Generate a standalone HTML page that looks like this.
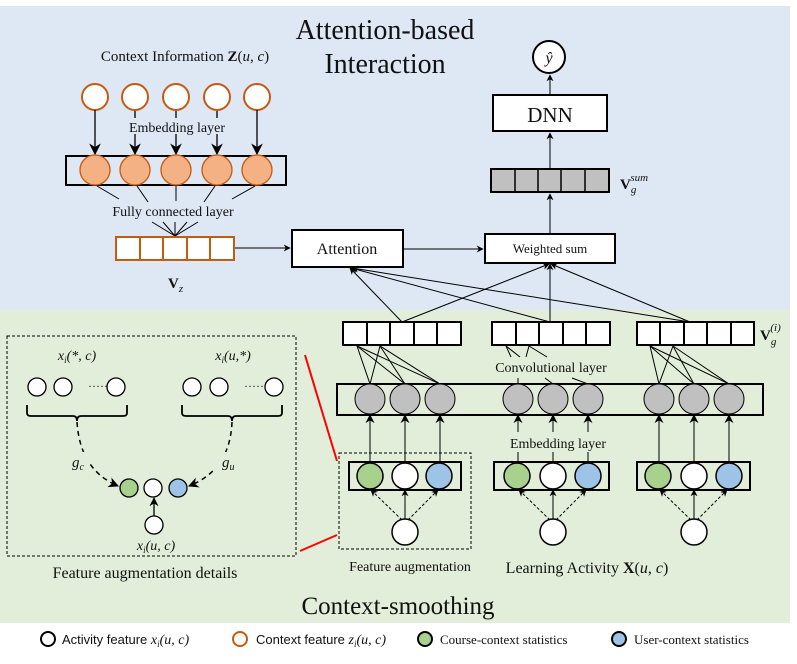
<!DOCTYPE html>
<html><head><meta charset="utf-8"><style>
body{margin:0;background:#fff}
svg{display:block}
text{font-family:"Liberation Serif",serif;fill:#111}
.s{font-family:"Liberation Sans",sans-serif}
</style></head><body>
<svg width="797" height="664" viewBox="0 0 797 664" xmlns="http://www.w3.org/2000/svg">
<defs>
<marker id="a" viewBox="0 0 10 10" refX="9" refY="5" markerWidth="7" markerHeight="7" orient="auto"><path d="M0,0 L10,5 L0,10 L3,5 z" fill="#000"/></marker>
<marker id="b" viewBox="0 0 10 10" refX="9" refY="5" markerWidth="9" markerHeight="9" orient="auto"><path d="M0,0 L10,5 L0,10 L3,5 z" fill="#000"/></marker>
</defs>
<rect x="0" y="6" width="790" height="305" fill="#dde8f4"/>
<rect x="0" y="310" width="790" height="313" fill="#e2eed9"/>

<text x="385" y="39" font-size="28" text-anchor="middle">Attention-based</text>
<text x="385" y="73" font-size="28" text-anchor="middle">Interaction</text>
<text x="185" y="61" font-size="15" text-anchor="middle">Context Information <tspan font-weight="bold">Z</tspan>(<tspan font-style="italic">u</tspan>, <tspan font-style="italic">c</tspan>)</text>

<g fill="#fff" stroke="#c55a11" stroke-width="2">
<circle cx="95" cy="97" r="13"/><circle cx="135" cy="97" r="13"/><circle cx="176" cy="97" r="13"/><circle cx="217" cy="97" r="13"/><circle cx="257" cy="97" r="13"/>
</g>
<g stroke="#000" stroke-width="1.3" marker-end="url(#b)">
<line x1="95" y1="110" x2="95" y2="154"/><line x1="135" y1="111" x2="135" y2="154"/><line x1="176" y1="111" x2="176" y2="154"/><line x1="217" y1="111" x2="217" y2="154"/><line x1="257" y1="110" x2="257" y2="154"/>
</g>
<rect x="124" y="118" width="110" height="16" fill="#dde8f4"/>
<text x="177" y="132" font-size="14" text-anchor="middle">Embedding layer</text>
<rect x="66" y="156" width="220" height="29" fill="none" stroke="#000" stroke-width="2"/>
<g fill="#f4b183" stroke="#c55a11" stroke-width="1.3">
<circle cx="95" cy="170" r="15"/><circle cx="135" cy="170" r="15"/><circle cx="176" cy="170" r="15"/><circle cx="217" cy="170" r="15"/><circle cx="257" cy="170" r="15"/>
</g>
<g stroke="#000" stroke-width="1">
<line x1="97" y1="186" x2="119" y2="199"/><line x1="137" y1="186" x2="148" y2="202"/><line x1="176" y1="186" x2="176" y2="201"/><line x1="215" y1="186" x2="204" y2="202"/><line x1="255" y1="186" x2="232" y2="199"/>
<line x1="152" y1="222" x2="175" y2="236"/><line x1="163" y1="222" x2="175" y2="236"/><line x1="175" y1="222" x2="175" y2="236"/><line x1="187" y1="222" x2="175" y2="236"/><line x1="198" y1="222" x2="175" y2="236"/>
</g>
<text x="173" y="216" font-size="14" text-anchor="middle">Fully connected layer</text>
<rect x="116" y="237" width="118" height="23" fill="#fff" stroke="#c55a11" stroke-width="2"/>
<g stroke="#c55a11" stroke-width="2"><line x1="140" y1="237" x2="140" y2="260"/><line x1="163" y1="237" x2="163" y2="260"/><line x1="187" y1="237" x2="187" y2="260"/><line x1="210" y1="237" x2="210" y2="260"/></g>
<text x="168" y="288" font-size="15" font-weight="bold">V<tspan font-size="11" font-style="italic" font-weight="normal" dy="4">z</tspan></text>
<line x1="235" y1="248" x2="290" y2="248" stroke="#000" stroke-width="1" marker-end="url(#a)"/>

<rect x="292" y="230" width="111" height="37" fill="#fff" stroke="#000" stroke-width="2"/>
<text x="347" y="254" font-size="16" text-anchor="middle">Attention</text>
<line x1="403" y1="249" x2="483" y2="249" stroke="#000" stroke-width="1" marker-end="url(#a)"/>
<rect x="485" y="234" width="130" height="29" fill="#fff" stroke="#000" stroke-width="2"/>
<text x="550" y="253" font-size="13" text-anchor="middle">Weighted sum</text>
<line x1="550" y1="233" x2="550" y2="194" stroke="#000" stroke-width="1" marker-end="url(#a)"/>
<rect x="491" y="169" width="118" height="23" fill="#c0c0c0" stroke="#000" stroke-width="2"/>
<g stroke="#000" stroke-width="1.5"><line x1="515" y1="169" x2="515" y2="192"/><line x1="538" y1="169" x2="538" y2="192"/><line x1="561" y1="169" x2="561" y2="192"/><line x1="585" y1="169" x2="585" y2="192"/></g>
<text x="620" y="189" font-size="15" font-weight="bold">V<tspan font-size="11" font-style="italic" font-weight="normal" dy="4">g</tspan><tspan font-size="11" font-style="italic" font-weight="normal" dx="-6" dy="-12">sum</tspan></text>
<line x1="550" y1="168" x2="550" y2="133" stroke="#000" stroke-width="1" marker-end="url(#a)"/>
<rect x="493" y="95" width="114" height="36" fill="#fff" stroke="#000" stroke-width="2"/>
<text x="550" y="122" font-size="21" text-anchor="middle">DNN</text>
<line x1="550" y1="95" x2="550" y2="75" stroke="#000" stroke-width="1" marker-end="url(#a)"/>
<circle cx="549" cy="57" r="16" fill="#fff" stroke="#000" stroke-width="2"/>
<text x="549" y="63" font-size="16" font-style="italic" text-anchor="middle">ŷ</text>

<g stroke="#000" stroke-width="1" marker-end="url(#a)">
<line x1="402" y1="322" x2="350" y2="268"/><line x1="550" y1="322" x2="351" y2="268"/><line x1="690" y1="322" x2="352" y2="268"/>
<line x1="402" y1="322" x2="549" y2="264"/><line x1="550" y1="322" x2="550" y2="264"/><line x1="690" y1="322" x2="551" y2="264"/>
</g>

<g fill="#fff" stroke="#000" stroke-width="2">
<rect x="343" y="322" width="118" height="23"/><rect x="492" y="322" width="118" height="23"/><rect x="637" y="322" width="117" height="23"/>
</g>
<g stroke="#000" stroke-width="2">
<line x1="367" y1="322" x2="367" y2="345"/><line x1="390" y1="322" x2="390" y2="345"/><line x1="414" y1="322" x2="414" y2="345"/><line x1="437" y1="322" x2="437" y2="345"/>
<line x1="516" y1="322" x2="516" y2="345"/><line x1="539" y1="322" x2="539" y2="345"/><line x1="563" y1="322" x2="563" y2="345"/><line x1="586" y1="322" x2="586" y2="345"/>
<line x1="660" y1="322" x2="660" y2="345"/><line x1="684" y1="322" x2="684" y2="345"/><line x1="707" y1="322" x2="707" y2="345"/><line x1="731" y1="322" x2="731" y2="345"/>
</g>
<text x="760" y="340" font-size="15" font-weight="bold">V<tspan font-size="11" font-style="italic" font-weight="normal" dy="5">g</tspan><tspan font-size="11" font-style="italic" font-weight="normal" dx="-6" dy="-14">(i)</tspan></text>
<g stroke="#000" stroke-width="1">
<line x1="357" y1="346" x2="370" y2="384"/><line x1="357" y1="346" x2="405" y2="384"/><line x1="357" y1="346" x2="440" y2="384"/>
<line x1="380" y1="346" x2="370" y2="384"/><line x1="380" y1="346" x2="405" y2="384"/><line x1="380" y1="346" x2="440" y2="384"/>
<line x1="650" y1="346" x2="659" y2="384"/><line x1="650" y1="346" x2="694" y2="384"/><line x1="650" y1="346" x2="729" y2="384"/>
<line x1="673" y1="346" x2="659" y2="384"/><line x1="673" y1="346" x2="694" y2="384"/><line x1="673" y1="346" x2="729" y2="384"/>
<line x1="506" y1="346" x2="511" y2="357"/><line x1="506" y1="346" x2="520" y2="357"/><line x1="529" y1="346" x2="526" y2="357"/><line x1="529" y1="346" x2="547" y2="357"/>
<line x1="518" y1="378" x2="518" y2="384"/><line x1="545" y1="378" x2="553" y2="384"/><line x1="572" y1="378" x2="588" y2="384"/>
</g>
<text x="551" y="372" font-size="14" text-anchor="middle">Convolutional layer</text>

<rect x="337" y="384" width="426" height="31" fill="none" stroke="#000" stroke-width="2"/>
<g fill="#c0c0c0" stroke="#000" stroke-width="1">
<circle cx="370" cy="399" r="15"/><circle cx="405" cy="399" r="15"/><circle cx="440" cy="399" r="15"/>
<circle cx="518" cy="399" r="15"/><circle cx="553" cy="399" r="15"/><circle cx="588" cy="399" r="15"/>
<circle cx="659" cy="399" r="15"/><circle cx="694" cy="399" r="15"/><circle cx="729" cy="399" r="15"/>
</g>
<g stroke="#000" stroke-width="1" marker-end="url(#b)">
<line x1="370" y1="462" x2="370" y2="415"/><line x1="405" y1="462" x2="405" y2="415"/><line x1="440" y1="462" x2="440" y2="415"/>
<line x1="518" y1="432" x2="518" y2="415"/><line x1="553" y1="432" x2="553" y2="415"/><line x1="588" y1="432" x2="588" y2="415"/>
<line x1="659" y1="462" x2="659" y2="415"/><line x1="694" y1="462" x2="694" y2="415"/><line x1="729" y1="462" x2="729" y2="415"/>
</g>
<g stroke="#000" stroke-width="1"><line x1="518" y1="452" x2="518" y2="462"/><line x1="553" y1="452" x2="553" y2="462"/><line x1="588" y1="452" x2="588" y2="462"/></g>
<text x="558" y="448" font-size="14" text-anchor="middle">Embedding layer</text>

<g fill="none" stroke="#000" stroke-width="2">
<rect x="349" y="462" width="112" height="28"/><rect x="494" y="462" width="115" height="28"/><rect x="637" y="462" width="113" height="28"/>
</g>
<g stroke="#000" stroke-width="1.5">
<circle cx="370" cy="476" r="13" fill="#a9d18e"/><circle cx="405" cy="476" r="13" fill="#fff"/><circle cx="439" cy="476" r="13" fill="#9dc3e6"/>
<circle cx="517" cy="476" r="13" fill="#a9d18e"/><circle cx="553" cy="476" r="13" fill="#fff"/><circle cx="588" cy="476" r="13" fill="#9dc3e6"/>
<circle cx="658" cy="476" r="13" fill="#a9d18e"/><circle cx="694" cy="476" r="13" fill="#fff"/><circle cx="729" cy="476" r="13" fill="#9dc3e6"/>
<circle cx="405" cy="532" r="13" fill="#fff"/><circle cx="553" cy="532" r="13" fill="#fff"/><circle cx="694" cy="532" r="13" fill="#fff"/>
</g>
<g stroke="#000" stroke-width="1" marker-end="url(#a)">
<line x1="405" y1="519" x2="405" y2="490"/><line x1="553" y1="519" x2="553" y2="490"/><line x1="694" y1="519" x2="694" y2="490"/>
</g>
<g stroke="#000" stroke-width="1" stroke-dasharray="3,2" marker-end="url(#a)">
<line x1="402" y1="520" x2="371" y2="490"/><line x1="408" y1="520" x2="438" y2="490"/>
<line x1="550" y1="520" x2="519" y2="490"/><line x1="556" y1="520" x2="586" y2="490"/>
<line x1="691" y1="520" x2="660" y2="490"/><line x1="697" y1="520" x2="727" y2="490"/>
</g>
<rect x="339" y="453" width="132" height="96" fill="none" stroke="#000" stroke-width="1" stroke-dasharray="3,2"/>
<text x="410" y="571" font-size="14" text-anchor="middle">Feature augmentation</text>
<text x="587" y="573" font-size="16" text-anchor="middle">Learning Activity <tspan font-weight="bold">X</tspan>(<tspan font-style="italic">u</tspan>, <tspan font-style="italic">c</tspan>)</text>
<g stroke="#f00" stroke-width="2"><line x1="305" y1="355" x2="337" y2="461"/><line x1="300" y1="551" x2="337" y2="535"/></g>

<rect x="7" y="336" width="289" height="220" fill="none" stroke="#000" stroke-width="1" stroke-dasharray="3,2"/>
<text x="77" y="360" font-size="14" text-anchor="middle" font-style="italic">x<tspan font-size="9" dy="3">i</tspan><tspan dy="-3">(*, c)</tspan></text>
<text x="233" y="360" font-size="14" text-anchor="middle" font-style="italic">x<tspan font-size="9" dy="3">i</tspan><tspan dy="-3">(u,*)</tspan></text>
<g fill="#fff" stroke="#000" stroke-width="1.3">
<circle cx="37" cy="387" r="9"/><circle cx="63" cy="387" r="9"/><circle cx="116" cy="387" r="9"/>
<circle cx="192" cy="387" r="9"/><circle cx="219" cy="387" r="9"/><circle cx="274" cy="387" r="9"/>
<circle cx="129" cy="488" r="9" fill="#a9d18e"/><circle cx="153" cy="488" r="9"/><circle cx="178" cy="488" r="9" fill="#9dc3e6"/>
<circle cx="154" cy="525" r="9"/>
</g>
<text x="88" y="390" font-size="12">·····</text><text x="244" y="390" font-size="12">·····</text>
<g fill="none" stroke="#000" stroke-width="1.8">
<path d="M27,405 v8 q0,3 4,3 h42 q4,0 4,5 q0,-5 4,-5 h42 q4,0 4,-3 v-8"/>
<path d="M182,405 v8 q0,3 4,3 h42 q4,0 4,5 q0,-5 4,-5 h42 q4,0 4,-3 v-8"/>
</g>
<g fill="none" stroke="#000" stroke-width="1.5" stroke-dasharray="5,4">
<path d="M77,422 Q80,470 118,486" marker-end="url(#a)"/>
<path d="M232,422 Q230,470 189,486" marker-end="url(#a)"/>
</g>
<rect x="60" y="452" width="30" height="18" fill="#e2eed9"/><rect x="212" y="452" width="30" height="18" fill="#e2eed9"/>
<text x="72" y="467" font-size="15" font-style="italic">g<tspan font-size="10" dy="3">c</tspan></text>
<text x="222" y="467" font-size="15" font-style="italic">g<tspan font-size="10" dy="3">u</tspan></text>
<line x1="154" y1="516" x2="154" y2="498" stroke="#000" stroke-width="1.3" marker-end="url(#a)"/>
<text x="156" y="550" font-size="14" text-anchor="middle" font-style="italic">x<tspan font-size="9" dy="3">i</tspan><tspan dy="-3">(u, c)</tspan></text>
<text x="145" y="578" font-size="16" text-anchor="middle">Feature augmentation details</text>

<text x="398" y="614" font-size="25" text-anchor="middle">Context-smoothing</text>

<circle cx="48" cy="639" r="7" fill="#fff" stroke="#000" stroke-width="2"/>
<text x="62" y="644" font-size="13" class="s">Activity feature <tspan font-family="Liberation Serif" font-style="italic" font-size="14">x<tspan font-size="9" dy="3">i</tspan><tspan dy="-3">(u, c)</tspan></tspan></text>
<circle cx="240" cy="639" r="7" fill="#fff" stroke="#c55a11" stroke-width="2"/>
<text x="256" y="644" font-size="13" class="s">Context feature <tspan font-family="Liberation Serif" font-style="italic" font-size="14">z<tspan font-size="9" dy="3">i</tspan><tspan dy="-3">(u, c)</tspan></tspan></text>
<circle cx="425" cy="639" r="7" fill="#a9d18e" stroke="#000" stroke-width="2"/>
<text x="440" y="644" font-size="13">Course-context statistics</text>
<circle cx="619" cy="639" r="7" fill="#9dc3e6" stroke="#000" stroke-width="2"/>
<text x="634" y="644" font-size="13">User-context statistics</text>
</svg>
</body></html>
